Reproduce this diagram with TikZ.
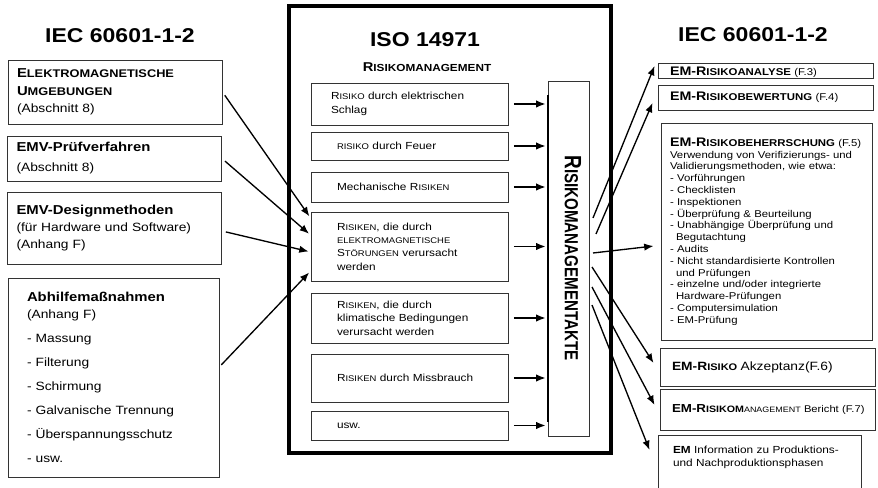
\documentclass[tikz,border=0pt]{standalone}
\usepackage{fontspec}
\setmainfont{Liberation Sans}[FakeStretch=1.15]
\newfontfamily\vfont{Liberation Sans}
\usepackage{graphicx}
\usetikzlibrary{arrows.meta}

\newcommand\kap[2][0.8]{\scalebox{#1}{#2}}
\newcommand\fs[2]{\fontsize{#1}{#2}\selectfont}
\newcommand\lb[1]{{\bfseries\fs{9.7}{13}#1}}
\newcommand\rt[1]{{\bfseries\fs{9.3}{11}#1}}

\tikzstyle{titel} = [font=\bfseries\fs{15}{18}, inner sep=0pt]
\tikzstyle{lbox} = [rectangle, draw=black!80, line width=0.7pt, align=left, inner xsep=6.75pt, inner ysep=2pt, text width=147pt, font=\fs{9}{13}]
\tikzstyle{ibox} = [rectangle, draw=black!80, line width=0.7pt, align=left, inner xsep=19.5pt, inner ysep=1pt, text width=108.75pt, font=\fs{7.7}{10}]
\tikzstyle{rbox} = [rectangle, draw=black!80, line width=0.7pt, align=left, inner xsep=9pt, inner ysep=1pt, text width=143.25pt, font=\fs{7.4}{8.85}]
\tikzstyle{outerbox} = [rectangle, draw=black, line width=3pt, inner sep=0pt]
\tikzstyle{vertbox} = [rectangle, draw=black!80, line width=0.7pt, inner sep=0pt]
\tikzstyle{arrow} = [line width=1pt, -{Latex[length=7pt,width=5.5pt]}]

\begin{document}
\begin{tikzpicture}[x=0.75pt, y=-0.75pt]
          \useasboundingbox (0,0) rectangle (878,488); %

          %% IEC 60601-1-2 (links)
          \node (iecl)    [titel] at (120,36) {IEC 60601-1-2}; %
          \node (emu)     [lbox, minimum height=48pt] at (115,92) {\lb{E\kap[0.86]{LEKTROMAGNETISCHE}}\\ \lb{U\kap[0.86]{MGEBUNGEN}}\\ (Abschnitt 8)}; %
          \node (emv)     [lbox, minimum height=33.75pt] at (114.5,158.5) {\lb{EMV-Prüfverfahren}\\[2pt] (Abschnitt 8)}; %
          \node (design)  [lbox, minimum height=54pt] at (114.5,228) {\lb{EMV-Designmethoden}\\ (für Hardware und Software)\\ (Anhang F)}; %
          \node (abhilfe) [lbox, text width=129.75pt, inner xsep=14.25pt, minimum height=149.25pt] at (113.5,377.5)
               {\lb{Abhilfemaßnahmen}\\ (Anhang F)\\[5pt] - Massung\\[5pt] - Filterung\\[5pt] - Schirmung\\[5pt] - Galvanische Trennung\\[5pt] - Überspannungsschutz\\[5pt] - usw.}; %

          %% ISO 14971
          \node (iso)      [outerbox, minimum width=241.5pt, minimum height=335.25pt] at (450,229.5) {}; %
          \node (isotitel) [titel] at (425,40) {ISO 14971}; %
          \node (rm)       [font=\bfseries\fs{9.6}{12}, inner sep=0pt] at (427,67) {R\kap{ISIKOMANAGEMENT}}; %
          \node (schlag)     [ibox, inner xsep=15pt, text width=117.75pt, minimum height=31.5pt] at (409.5,104) {R\kap{ISIKO} durch elektrischen\\ Schlag}; %
          \node (feuer)      [ibox, minimum height=21pt] at (409.5,146) {\kap{RISIKO} durch Feuer}; %
          \node (mech)       [ibox, minimum height=22.5pt] at (409.5,187) {Mechanische R\kap{ISIKEN}}; %
          \node (emstoer)    [ibox, minimum height=51.75pt] at (409.5,246.5) {R\kap{ISIKEN}, die durch\\ \kap{ELEKTROMAGNETISCHE}\\ S\kap{TÖRUNGEN} verursacht\\ werden}; %
          \node (klima)      [ibox, minimum height=37.5pt] at (409.5,318) {R\kap{ISIKEN}, die durch\\ klimatische Bedingungen\\ verursacht werden}; %
          \node (missbrauch) [ibox, minimum height=36pt] at (409.5,378) {R\kap{ISIKEN} durch Missbrauch}; %
          \node (usw)        [ibox, minimum height=21.75pt] at (409.5,425.5) {usw.}; %
          \node (akte)     [vertbox, minimum width=30.75pt, minimum height=266.25pt] at (568.5,258.5) {}; %
          \draw [line width=1.5pt] ([shift={(0.7pt,-10.5pt)}]akte.north west) -- ([shift={(0.7pt,10.5pt)}]akte.south west); %
          \node (aktetext) [rotate=-90, font=\vfont\bfseries\fs{14.2}{16}, inner sep=0pt] at (573,258) {\scalebox{1}[1.25]{R\kap{ISIKOMANAGEMENTAKTE}}}; %

          %% IEC 60601-1-2 (rechts)
          \node (iecr)         [titel] at (753,35) {IEC 60601-1-2}; %
          \node (analyse)      [rbox, inner ysep=1.8pt, text height=7.5pt, text depth=0pt, minimum height=11.25pt] at (765.5,70.5) {\rt{EM-R\kap{ISIKOANALYSE}} (F.3)}; %
          \node (bewertung)    [rbox, minimum height=18.75pt] at (765.5,97.5) {\rt{EM-R\kap{ISIKOBEWERTUNG}} (F.4)}; %
          \node (beherrschung) [rbox, inner xsep=6.75pt, text width=144.75pt, minimum height=162.75pt] at (766.5,231.5)
               {\rt{EM-R\kap{ISIKOBEHERRSCHUNG}} (F.5)\\ Verwendung von Verifizierungs- und\\ Validierungsmethoden, wie etwa:\\
                - Vorführungen\\ - Checklisten\\ - Inspektionen\\ - Überprüfung \& Beurteilung\\ - Unabhängige Überprüfung und\\ \hspace*{4.5pt}Begutachtung\\
                - Audits\\ - Nicht standardisierte Kontrollen\\ \hspace*{4.5pt}und Prüfungen\\ - einzelne und/oder integrierte\\ \hspace*{4.5pt}Hardware-Prüfungen\\
                - Computersimulation\\ - EM-Prüfung}; %
          \node (akzeptanz)    [rbox, minimum height=28.5pt] at (767.5,367) {{\bfseries\fs{9}{10}EM-R\kap{ISIKO}} {\fs{9}{10}Akzeptanz(F.6)}}; %
          \node (bericht)      [rbox, minimum height=30.75pt, font=\fs{7.3}{10}] at (767.5,409.5) {\mbox{{\bfseries\fs{8.7}{10}EM-R\kap{ISIKOM}}\kap{ANAGEMENT} Bericht (F.7)}}; %
          \node (info)         [rbox, anchor=north, inner xsep=11.25pt, inner ysep=8pt, text width=129.75pt, text depth=40pt, font=\fs{7.7}{9.75}] at (759.5,435)
               {\textbf{EM} Information zu Produktions-\\ und Nachproduktionsphasen}; %

          %% Connections
          \draw [arrow, shorten <=3pt, shorten >=1.5pt] (emu.east) -- ([yshift=21.4pt]emstoer.west); %
          \draw [arrow, shorten <=3pt, shorten >=1.5pt] (emv.east) -- ([yshift=8.6pt]emstoer.west); %
          \draw [arrow, shorten <=3pt, shorten >=1.5pt] ([yshift=-2.25pt]design.east) -- ([yshift=-4.1pt]emstoer.west); %
          \draw [arrow, shorten <=2pt, shorten >=1.5pt] ([yshift=8pt]abhilfe.east) -- ([yshift=-18.4pt]emstoer.west); %

          \foreach \n in {schlag,feuer,mech,emstoer,klima,missbrauch,usw}
            \draw [arrow, shorten <=4pt, shorten >=1.5pt] (\n.east) -- (\n.east -| akte.west); %

          \coordinate (v1) at (593,218); %
          \coordinate (v2) at (596,234); %
          \coordinate (v3) at (593,253); %
          \coordinate (v4) at (592,267); %
          \coordinate (v5) at (592,287); %
          \coordinate (v6) at (592,305); %
          \draw [arrow] (v1) -- ([shift={(-2.25pt,3.4pt)}]analyse.west); %
          \draw [arrow] (v2) -- ([shift={(-3.75pt,-4.1pt)}]bewertung.west); %
          \draw [arrow] (v3) -- ([shift={(-5.25pt,-10.9pt)}]beherrschung.west); %
          \draw [arrow] (v4) -- ([shift={(-4.5pt,3pt)}]akzeptanz.west); %
          \draw [arrow] (v5) -- ([shift={(-3.75pt,3.4pt)}]bericht.west); %
          \draw [arrow] (v6) -- ([shift={(-6pt,-11.25pt)}]info.north west); %
        \end{tikzpicture}
\end{document}
